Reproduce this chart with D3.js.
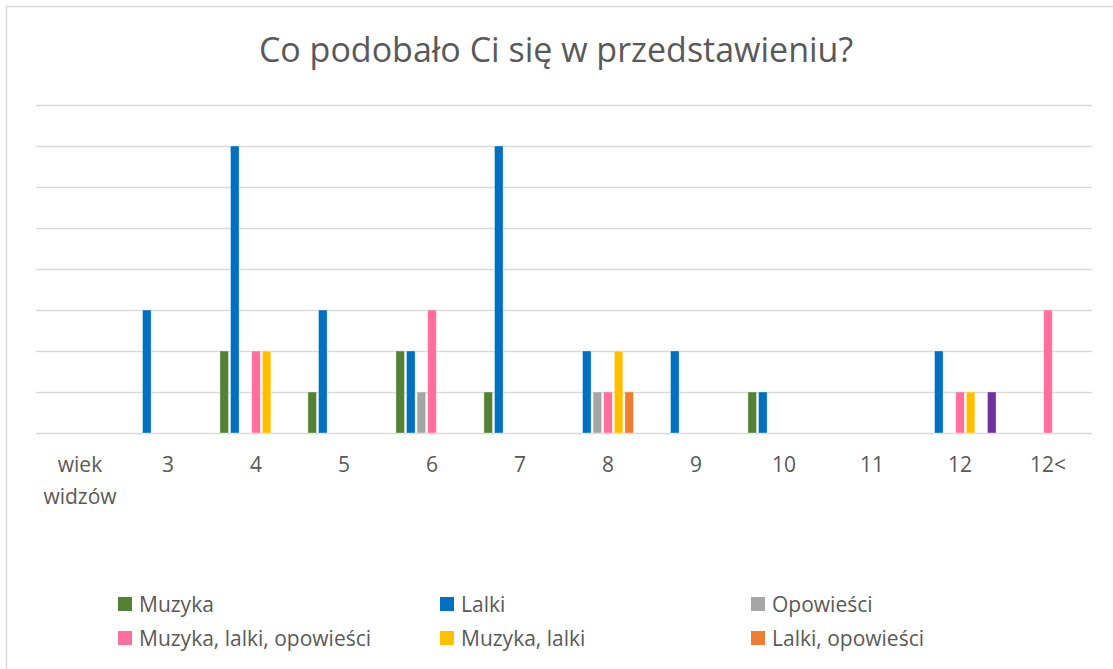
<!DOCTYPE html>
<html>
<head>
<meta charset="utf-8">
<script src="https://cdn.jsdelivr.net/npm/d3@7"></script>
<style>
  body { margin: 0; background: #fff; }
  svg text { font-family: "Open Sans", Lato, sans-serif; fill: #595959; }
</style>
</head>
<body>
<div id="chart"></div>
<script>
'use strict';

// categories along the x axis (first one is the axis caption from the sheet)
const categories = ['wiek widzów', '3', '4', '5', '6', '7', '8', '9', '10', '11', '12', '12<'];

const seriesNames = ['Muzyka', 'Lalki', 'Opowieści', 'Muzyka, lalki, opowieści', 'Muzyka, lalki', 'Lalki, opowieści', 'Muzyka, opowieści'];
const seriesColors = ['#548235', '#0070C0', '#A5A5A5', '#FF6E9C', '#FFC000', '#ED7D31', '#7030A0'];

const muzyka          = [0, 0, 2, 1, 2, 1, 0, 0, 1, 0, 0, 0];
const lalki           = [0, 3, 7, 3, 2, 7, 2, 2, 1, 0, 2, 0];
const opowiesci       = [0, 0, 0, 0, 1, 0, 1, 0, 0, 0, 0, 0];
const muzykaLalkiOpow = [0, 0, 2, 0, 3, 0, 1, 0, 0, 0, 1, 3];
const muzykaLalki     = [0, 0, 2, 0, 0, 0, 2, 0, 0, 0, 1, 0];
const lalkiOpow       = [0, 0, 0, 0, 0, 0, 1, 0, 0, 0, 0, 0];
const muzykaOpow      = [0, 0, 0, 0, 0, 0, 0, 0, 0, 0, 1, 0];

const yTicks = [0, 1, 2, 3, 4, 5, 6, 7, 8];

// only the first six entries fit in the visible legend
const legendCount = 6;

const seriesValues = [muzyka, lalki, opowiesci, muzykaLalkiOpow, muzykaLalki, lalkiOpow, muzykaOpow];

const W = 1113, H = 669;
const plot = { left: 36, right: 1092, top: 105, bottom: 433 };

const svg = d3.select('#chart').append('svg')
    .attr('width', W)
    .attr('height', H);

// chart frame
svg.append('rect')
    .attr('x', 6.5).attr('y', 6.5)
    .attr('width', W + 10).attr('height', H + 10)
    .attr('fill', '#fff')
    .attr('stroke', '#D9D9D9')
    .attr('stroke-width', 1.5);

svg.append('text')
    .attr('x', 556).attr('y', 62)
    .attr('text-anchor', 'middle')
    .attr('font-size', '34px')
    .text('Co podobało Ci się w przedstawieniu?');

const x0 = d3.scaleBand()
    .domain(categories)
    .range([plot.left, plot.right])
    .paddingInner(0.18)
    .paddingOuter(0.09);

const x1 = d3.scaleBand()
    .domain(seriesNames)
    .range([0, x0.bandwidth()])
    .paddingInner(0.19);

const y = d3.scaleLinear()
    .domain([0, 8])
    .range([plot.bottom, plot.top]);

// gridlines
svg.append('g')
    .attr('class', 'grid')
    .selectAll('line')
    .data(yTicks)
    .enter()
        .append('line')
        .attr('x1', plot.left)
        .attr('x2', plot.right)
        .attr('y1', function(d) { return Math.round(y(d)) + 0.5; })
        .attr('y2', function(d) { return Math.round(y(d)) + 0.5; })
        .attr('stroke', '#D9D9D9')
        .attr('stroke-width', 1.5);

// bars
const rows = [];
categories.forEach(function(c, i) {
    seriesNames.forEach(function(s, j) {
        if (seriesValues[j][i] > 0) rows.push({ cat: c, series: s, color: seriesColors[j], value: seriesValues[j][i] });
    });
});

svg.append('g')
    .attr('class', 'bars')
    .selectAll('rect')
    .data(rows)
    .enter()
        .append('rect')
        .attr('x', function(d) { return x0(d.cat) + x1(d.series); })
        .attr('y', function(d) { return y(d.value); })
        .attr('width', x1.bandwidth())
        .attr('height', function(d) { return y(0) - y(d.value); })
        .attr('fill', function(d) { return d.color; })
        .attr('stroke', 'rgba(255,255,255,0.45)')
        .attr('stroke-width', 0.8);

// x axis labels
const xAxis = d3.axisBottom(x0).tickSize(0).tickPadding(0);
const gx = svg.append('g')
    .attr('transform', 'translate(0,' + plot.bottom + ')')
    .call(xAxis);
gx.select('.domain').remove();
gx.selectAll('.tick text')
    .attr('font-size', '21px')
    .attr('font-family', '"Open Sans", Lato, sans-serif')
    .attr('fill', '#595959')
    .attr('y', 39)
    .attr('dy', 0)
    .each(function(d) {
        const words = d.split(' ');
        if (words.length > 1) {
            const t = d3.select(this).text(null);
            words.forEach(function(w, k) {
                t.append('tspan').attr('x', 0).attr('dy', k === 0 ? 0 : 32).text(w);
            });
        }
    });

// legend, three columns
const legendCols = [118, 440, 751];
const legendRows = [604, 638];
const legend = svg.append('g')
    .attr('class', 'legend')
    .selectAll('.item')
    .data(seriesNames.slice(0, legendCount))
    .enter()
        .append('g')
        .attr('class', 'item')
        .attr('transform', function(d, i) {
            return 'translate(' + legendCols[i % 3] + ',' + legendRows[Math.floor(i / 3)] + ')';
        });

legend.append('rect')
    .attr('x', 0).attr('y', -7)
    .attr('width', 14).attr('height', 14)
    .attr('fill', function(d, i) { return seriesColors[i]; });

legend.append('text')
    .attr('x', 21).attr('y', 7.5)
    .attr('font-size', '21px')
    .text(function(d) { return d; });
</script>
</body>
</html>
